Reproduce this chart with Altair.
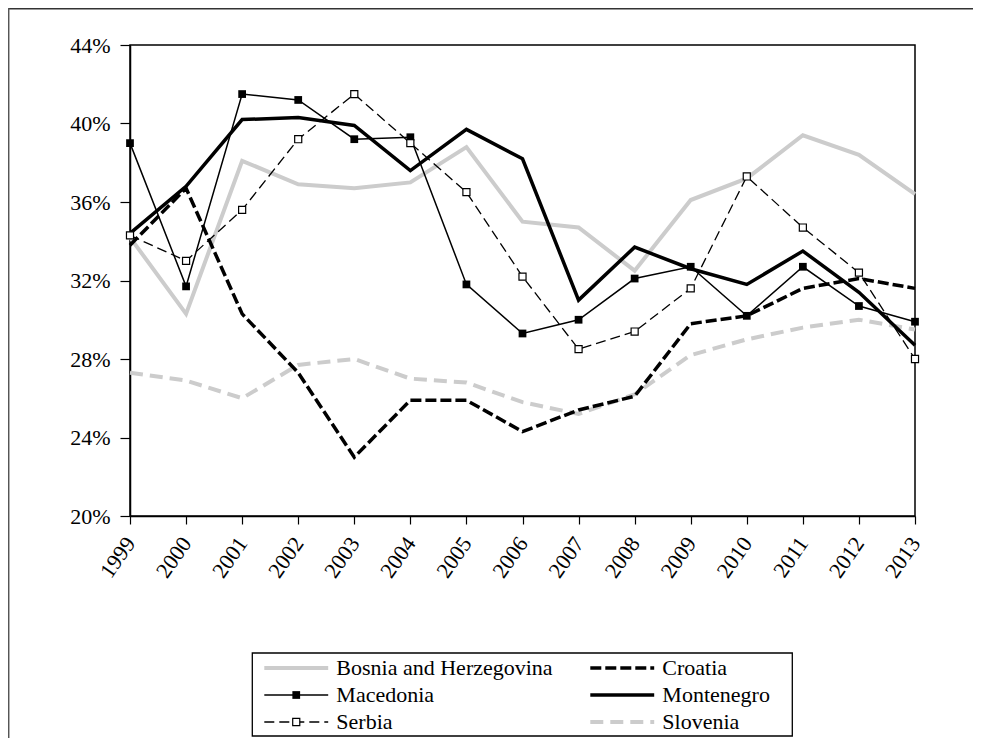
import altair as alt
import pandas as pd

# ---------------- data (percent) ----------------
years = list(range(1999, 2014))
bosnia = [34.2, 30.3, 38.1, 36.9, 36.7, 37.0, 38.8, 35.0, 34.7, 32.5, 36.1, 37.2, 39.4, 38.4, 36.4]
croatia = [33.8, 36.7, 30.3, 27.3, 23.0, 25.9, 25.9, 24.3, 25.4, 26.1, 29.8, 30.2, 31.6, 32.1, 31.6]
macedonia = [39.0, 31.7, 41.5, 41.2, 39.2, 39.3, 31.8, 29.3, 30.0, 32.1, 32.7, 30.2, 32.7, 30.7, 29.9]
montenegro = [34.4, 36.8, 40.2, 40.3, 39.9, 37.6, 39.7, 38.2, 31.0, 33.7, 32.6, 31.8, 33.5, 31.4, 28.7]
serbia = [34.3, 33.0, 35.6, 39.2, 41.5, 39.0, 36.5, 32.2, 28.5, 29.4, 31.6, 37.3, 34.7, 32.4, 28.0]
slovenia = [27.3, 26.9, 26.0, 27.7, 28.0, 27.0, 26.8, 25.8, 25.2, 26.2, 28.2, 29.0, 29.6, 30.0, 29.5]

y_ticks = [20, 24, 28, 32, 36, 40, 44]

countries = ["Bosnia and Herzegovina", "Croatia", "Macedonia", "Montenegro", "Serbia", "Slovenia"]
series = [bosnia, croatia, macedonia, montenegro, serbia, slovenia]
legend_col = [0, 1, 0, 1, 0, 1]
legend_row = [0, 0, 1, 1, 2, 2]

# ---------------- styles ----------------
FONT_X = "Times New Roman"
FONT_Y = "Liberation Serif"
FONT_L = "Times New Roman"
GRAY = "#cccccc"
styles = {
    "Bosnia and Herzegovina": dict(color=GRAY, strokeWidth=4),
    "Slovenia": dict(color=GRAY, strokeWidth=4, strokeDash=[13, 7]),
    "Croatia": dict(color="black", strokeWidth=3.5, strokeDash=[11, 4]),
    "Montenegro": dict(color="black", strokeWidth=3.5),
    "Macedonia": dict(color="black", strokeWidth=1.5),
    "Serbia": dict(color="black", strokeWidth=1.3, strokeDash=[10, 5]),
}
markers = {
    "Macedonia": dict(shape="square", filled=True, color="black", size=60),
    "Serbia": dict(shape="square", filled=True, fill="white", stroke="black", strokeWidth=1.2, size=50),
}
draw_order = ["Bosnia and Herzegovina", "Slovenia", "Croatia", "Montenegro", "Macedonia", "Serbia"]

W, H = 785, 471

rows = []
for name, vals in zip(countries, series):
    for yr, v in zip(years, vals):
        rows.append({"year": yr, "value": v / 100.0, "country": name})
df = pd.DataFrame(rows)

leg = pd.DataFrame({"country": countries, "col": legend_col, "row": legend_row})

x_enc = alt.X(
    "year:Q",
    scale=alt.Scale(domain=[1999, 2013], nice=False, zero=False),
    axis=alt.Axis(
        values=years, format="d", labelAngle=305, labelAlign="right", labelBaseline="middle",
        tickSize=8, labelPadding=15, title=None, grid=False,
        domainColor="black", tickColor="black", labelColor="black",
        labelFont=FONT_X, labelFontSize=22, domainWidth=1.5, tickWidth=1.2,
    ),
)
y_enc = alt.Y(
    "value:Q",
    scale=alt.Scale(domain=[0.20, 0.44], nice=False, zero=False),
    axis=alt.Axis(
        values=[t / 100.0 for t in y_ticks], format=".0%", tickSize=10, labelPadding=10,
        title=None, grid=False, domainColor="black", tickColor="black", labelColor="black",
        labelFont=FONT_Y, labelFontSize=22, domainWidth=1.5, tickWidth=1.2,
    ),
)

base = alt.Chart(df)
data_layers = []
for name in draw_order:
    st = styles[name]
    data_layers.append(
        base.transform_filter(alt.datum.country == name)
        .mark_line(**st)
        .encode(x=x_enc, y=y_enc)
    )
    if name in markers:
        data_layers.append(
            base.transform_filter(alt.datum.country == name)
            .mark_point(**markers[name], opacity=1)
            .encode(x=x_enc, y=y_enc)
        )

# ---------------- legend ----------------
LX = alt.Scale(domain=[0, 1], range=[134.3, 460.3])
LY = alt.Scale(domain=[0, 2], range=[623, 677])
SYM_LEN = 0.196
TXT_OFF = 0.221

lbase = alt.Chart(leg).transform_calculate(
    x0="datum.col",
    x1=f"datum.col + {SYM_LEN}",
    xm=f"datum.col + {SYM_LEN / 2}",
    xt=f"datum.col + {TXT_OFF}",
)
legend_layers = []
for name in countries:
    st = styles[name]
    legend_layers.append(
        lbase.transform_filter(alt.datum.country == name)
        .mark_rule(**st)
        .encode(
            x=alt.X("x0:Q", scale=LX, axis=None),
            x2="x1:Q",
            y=alt.Y("row:Q", scale=LY, axis=None),
        )
    )
    if name in markers:
        legend_layers.append(
            lbase.transform_filter(alt.datum.country == name)
            .mark_point(**markers[name], opacity=1)
            .encode(
                x=alt.X("xm:Q", scale=LX, axis=None),
                y=alt.Y("row:Q", scale=LY, axis=None),
            )
        )
legend_layers.append(
    lbase.mark_text(align="left", baseline="middle", font=FONT_L, fontSize=22, color="black")
    .encode(
        x=alt.X("xt:Q", scale=LX, axis=None),
        y=alt.Y("row:Q", scale=LY, axis=None),
        text="country:N",
    )
)

one = pd.DataFrame({"a": [0]})
legend_box = alt.Chart(one).mark_rect(fill=None, stroke="black", strokeWidth=1.3).encode(
    x=alt.value(122.3), x2=alt.value(662.3), y=alt.value(608), y2=alt.value(691)
)
frame_top = alt.Chart(one).mark_rule(color="#333333", strokeWidth=1.5).encode(
    x=alt.value(-122), x2=alt.value(W + 80), y=alt.value(-36.3)
)
frame_left = alt.Chart(one).mark_rule(color="#555555", strokeWidth=1.5).encode(
    x=alt.value(-121.3), y=alt.value(-37), y2=alt.value(H + 240)
)

main = alt.layer(*data_layers)
legend = alt.layer(*legend_layers, legend_box, frame_top, frame_left)

chart = (
    alt.layer(main, legend)
    .resolve_scale(x="independent", y="independent")
    .properties(
        width=W,
        height=H,
        autosize=alt.AutoSizeParams(type="none"),
        padding={"left": 122, "top": 37, "right": 58, "bottom": 222},
        background="white",
    )
    .configure_view(stroke="black", strokeWidth=1.5)
)

chart.save("out.html", embed_options={"renderer": "svg", "actions": False})
